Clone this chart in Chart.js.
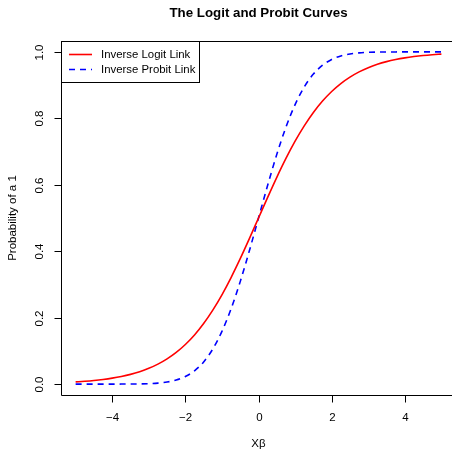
<!DOCTYPE html>
<html>
<head>
<meta charset="utf-8">
<script src="https://cdn.jsdelivr.net/npm/chart.js@4.4.1/dist/chart.umd.min.js"></script>
<style>
  html, body { margin: 0; padding: 0; background: #fff; overflow: hidden; }
</style>
</head>
<body>
<canvas id="chart" width="452" height="450"></canvas>
<script>
// x values (X beta) and the two curves
const xb = [-5, -4.75, -4.5, -4.25, -4, -3.75, -3.5, -3.25, -3, -2.75, -2.5, -2.25, -2, -1.75, -1.5, -1.25, -1, -0.75, -0.5, -0.25,
            0, 0.25, 0.5, 0.75, 1, 1.25, 1.5, 1.75, 2, 2.25, 2.5, 2.75, 3, 3.25, 3.5, 3.75, 4, 4.25, 4.5, 4.75, 5];
const logitVals = [0.0067, 0.0086, 0.0110, 0.0141, 0.0180, 0.0230, 0.0293, 0.0373, 0.0474, 0.0601, 0.0759, 0.0953, 0.1192, 0.1480,
                   0.1824, 0.2227, 0.2689, 0.3208, 0.3775, 0.4378, 0.5, 0.5622, 0.6225, 0.6792, 0.7311, 0.7773, 0.8176, 0.8520,
                   0.8808, 0.9047, 0.9241, 0.9399, 0.9526, 0.9627, 0.9707, 0.9770, 0.9820, 0.9859, 0.9890, 0.9914, 0.9933];
const probitVals = [0.0000, 0.0000, 0.0000, 0.0000, 0.0000, 0.0001, 0.0002, 0.0006, 0.0013, 0.0030, 0.0062, 0.0122, 0.0228, 0.0401,
                    0.0668, 0.1056, 0.1587, 0.2266, 0.3085, 0.4013, 0.5, 0.5987, 0.6915, 0.7734, 0.8413, 0.8944, 0.9332, 0.9599,
                    0.9772, 0.9878, 0.9938, 0.9970, 0.9987, 0.9994, 0.9998, 0.9999, 1.0000, 1.0000, 1.0000, 1.0000, 1.0000];
const xTicks = [-4, -2, 0, 2, 4];
const yTicks = [0, 0.2, 0.4, 0.6, 0.8, 1.0];
const seriesNames = ['Inverse Logit Link', 'Inverse Probit Link'];

const FONT = '"Liberation Sans", Arial, Helvetica, sans-serif';

// R-style frame, axes, titles and legend
const rFrame = {
    id: 'rFrame',
    afterDraw(chart) {
        const ctx = chart.ctx;
        const a = chart.chartArea;
        const xs = chart.scales.x, ys = chart.scales.y;
        const L = Math.round(a.left) + 0.5, T = Math.round(a.top) + 0.5, B = Math.round(a.bottom) + 0.5;
        ctx.save();
        ctx.strokeStyle = '#000';
        ctx.lineWidth = 1;
        ctx.beginPath();
        ctx.moveTo(chart.width + 5, T); ctx.lineTo(L, T); ctx.lineTo(L, B); ctx.lineTo(chart.width + 5, B);
        ctx.stroke();

        ctx.fillStyle = '#000';
        ctx.font = '11.5px ' + FONT;
        ctx.textAlign = 'center';
        ctx.textBaseline = 'middle';
        xTicks.forEach(v => {
            const px = Math.round(xs.getPixelForValue(v)) + 0.5;
            ctx.beginPath(); ctx.moveTo(px, B); ctx.lineTo(px, B + 7); ctx.stroke();
            ctx.fillText(v < 0 ? '\u2212' + Math.abs(v) : String(v), px, 418);
        });
        yTicks.forEach(v => {
            const py = Math.round(ys.getPixelForValue(v)) + 0.5;
            ctx.beginPath(); ctx.moveTo(L, py); ctx.lineTo(L - 7, py); ctx.stroke();
            ctx.save();
            ctx.translate(40, py);
            ctx.rotate(-Math.PI / 2);
            ctx.fillText(v.toFixed(1), 0, 0);
            ctx.restore();
        });

        const cx = (xs.getPixelForValue(-5.4) + xs.getPixelForValue(5.4)) / 2;
        ctx.fillText('X\u03b2', cx, 444);
        ctx.save();
        ctx.translate(13, (a.top + a.bottom) / 2);
        ctx.rotate(-Math.PI / 2);
        ctx.fillText('Probability of a 1', 0, 0);
        ctx.restore();

        ctx.font = 'bold 13.3px ' + FONT;
        ctx.fillText('The Logit and Probit Curves', cx, 13);

        // legend
        ctx.strokeStyle = '#000';
        ctx.lineWidth = 1;
        ctx.strokeRect(L, T, 138, 41);
        ctx.font = '11.4px ' + FONT;
        ctx.textAlign = 'left';
        chart.data.datasets.forEach((ds, i) => {
            const y = 54.5 + i * 15;
            ctx.strokeStyle = ds.borderColor;
            ctx.lineWidth = ds.borderWidth;
            ctx.setLineDash(ds.borderDash || []);
            ctx.beginPath(); ctx.moveTo(69, y); ctx.lineTo(92, y); ctx.stroke();
            ctx.setLineDash([]);
            ctx.fillText(seriesNames[i], 101, y);
        });
        ctx.restore();
    }
};

new Chart(document.getElementById('chart'), {
    type: 'line',
    data: {
        datasets: [{
            label: seriesNames[0],
            data: xb.map((x, i) => ({ x: x, y: logitVals[i] })),
            borderColor: '#ff0000',
            borderWidth: 1.6,
            pointRadius: 0,
            cubicInterpolationMode: 'monotone',
            fill: false
        }, {
            label: seriesNames[1],
            data: xb.map((x, i) => ({ x: x, y: probitVals[i] })),
            borderColor: '#0000ff',
            borderWidth: 1.6,
            borderDash: [6, 5],
            pointRadius: 0,
            cubicInterpolationMode: 'monotone',
            fill: false
        }]
    },
    options: {
        responsive: false,
        animation: false,
        devicePixelRatio: 1,
        layout: { padding: { left: 61, top: 41, right: 0, bottom: 55 } },
        plugins: { legend: { display: false }, tooltip: { enabled: false }, title: { display: false } },
        scales: {
            x: { type: 'linear', min: -5.4, max: 5.29, display: false },
            y: { min: -0.0328, max: 1.0328, display: false }
        }
    },
    plugins: [rFrame]
});
</script>
</body>
</html>
